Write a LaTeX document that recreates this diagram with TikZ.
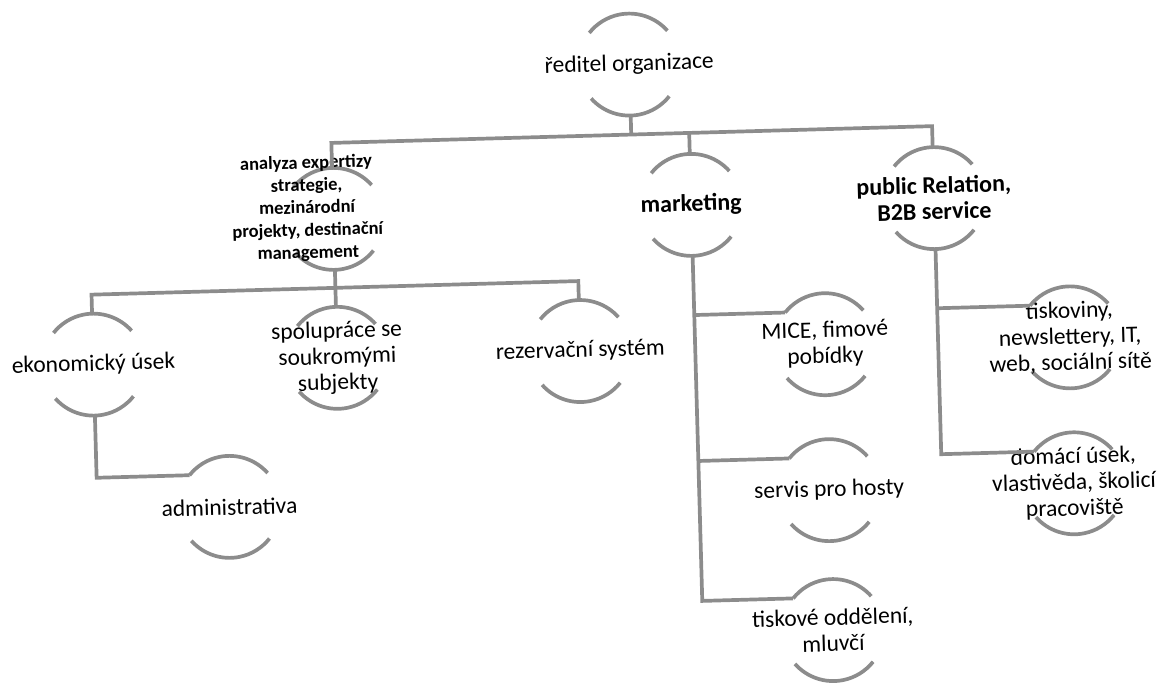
\documentclass[tikz,border=0pt]{standalone}
\usepackage{fontspec}
\setmainfont{Carlito}
\tikzset{
  ln/.style={draw=black!45, line width=3.7pt},
  ring/.style={circle, minimum size=102pt, inner sep=0pt, outer sep=0pt, draw=none},
  lbl/.style={align=center, inner sep=0pt, font=\fontsize{23.5}{26}\selectfont},
  lblb/.style={align=center, inner sep=0pt, font=\fontsize{24}{26}\selectfont\bfseries},
  lbls/.style={align=center, inner sep=0pt, font=\fontsize{18.5}{22.5}\selectfont\bfseries},
}
\newcommand\ringarcs[1]{%
  \draw[ln] (#1.40) arc[start angle=40,end angle=140,radius=51pt];
  \draw[ln] (#1.220) arc[start angle=220,end angle=320,radius=51pt];}
\begin{document}
\begin{tikzpicture}[x=1pt,y=1pt]
\useasboundingbox (0,0) rectangle (1163,683);
\begin{scope}[rotate around={1.6:(581.5,341.5)}, transform shape]
  % circles
  \node[ring] (dir)    at (637,617) {};
  \node[ring] (ana)    at (337,471) {};
  \node[ring] (mkt)    at (695,475) {};
  \node[ring] (pr)     at (938,475) {};
  \node[ring] (eko)    at (93,332)  {};
  \node[ring] (spo)    at (337,332) {};
  \node[ring] (rez)    at (580,332) {};
  \node[ring] (adm)    at (225,186) {};
  \node[ring] (mice)   at (825,332) {};
  \node[ring] (serv)   at (825,186) {};
  \node[ring] (tisk)   at (825,46)  {};
  \node[ring] (tiskov) at (1070,332) {};
  \node[ring] (dom)    at (1070,186) {};
  \foreach \n in {dir,ana,mkt,pr,eko,spo,rez,adm,mice,serv,tisk,tiskov,dom}{\ringarcs{\n}}
  % labels
  \node[lbl]  (dirT)    at (dir)    {ředitel organizace};
  \node[lbls] (anaT)    at (311,482) {analyza expertizy\\strategie,\\mezinárodní\\projekty, destinační\\management};
  \node[lblb] (mktT)    at (mkt)    {marketing};
  \node[lblb] (prT)     at (pr)     {public Relation,\\B2B service};
  \node[lbl]  (ekoT)    at (eko)    {ekonomický úsek};
  \node[lbl]  (spoT)    at (spo)    {spolupráce se\\soukromými\\subjekty};
  \node[lbl]  (rezT)    at (rez)    {rezervační systém};
  \node[lbl]  (admT)    at (adm)    {administrativa};
  \node[lbl]  (miceT)   at (mice)   {MICE, fimové\\pobídky};
  \node[lbl]  (servT)   at (serv)   {servis pro hosty};
  \node[lbl]  (tiskT)   at (tisk)   {tiskové oddělení,\\mluvčí};
  \node[lbl]  (tiskovT) at (tiskov) {tiskoviny,\\newslettery, IT,\\web, sociální sítě};
  \node[lbl]  (domT)    at (dom)    {domácí úsek,\\vlastivěda, školicí\\pracoviště};
  % bus coordinates
  \coordinate (busL) at (337,547);
  \coordinate (busA) at (637,547);
  \coordinate (busC) at (695,547);
  \coordinate (busR) at (938,547);
  \coordinate (subL) at (93,402);
  \coordinate (subR) at (580,402);
  \coordinate (eA)   at (93,218.8);
  \coordinate (mK)   at (695,78.8);
  \coordinate (mI)   at (695,364.8);
  \coordinate (mJ)   at (695,218.8);
  \coordinate (pM)   at (938,218.8);
  \coordinate (pL)   at (938,364.8);
  % connectors
  \draw[ln] (dir.south) -- (busA);
  \draw[ln] (ana.north) -- (busL) -- (busR) -- (pr.north);
  \draw[ln] (mkt.north) -- (busC);
  \draw[ln] (eko.north) -- (subL) -- (subR) -- (rez.north);
  \draw[ln] (ana.south) -- (spo.north);
  \draw[ln] (eko.south) -- (eA) -- (adm.140);
  \draw[ln] (mkt.south) -- (mK) -- (tisk.140);
  \draw[ln] (mI) -- (mice.140);
  \draw[ln] (mJ) -- (serv.140);
  \draw[ln] (pr.south) -- (pM) -- (dom.140);
  \draw[ln] (pL) -- (tiskov.140);
\end{scope}
\end{tikzpicture}
\end{document}
